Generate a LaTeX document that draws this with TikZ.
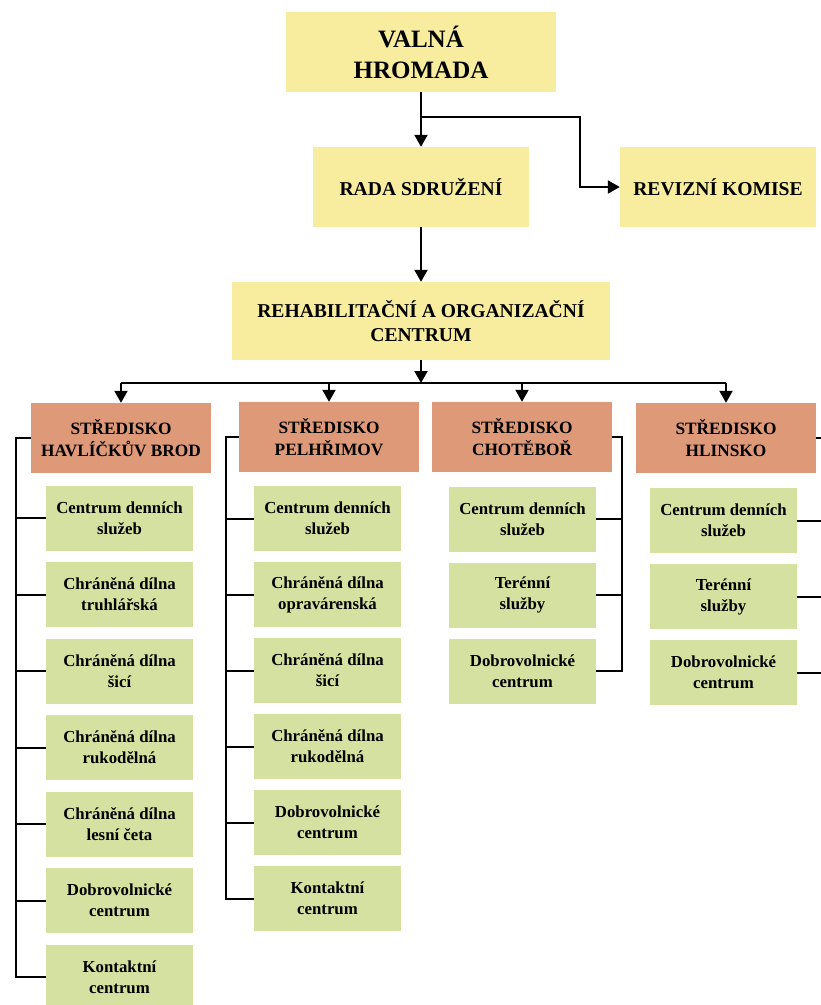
\documentclass[tikz,border=0pt]{standalone}
\usepackage{fontspec}
\setmainfont{Liberation Serif}
\usetikzlibrary{arrows.meta}

\definecolor{boxyellow}{RGB}{248,236,158}
\definecolor{boxorange}{RGB}{221,153,120}
\definecolor{boxgreen}{RGB}{213,225,160}

\begin{document}
\begin{tikzpicture}[x=1pt,y=-1pt]
    \tikzstyle{every node}=[font=\bfseries,align=center,inner sep=2pt]
    \tikzstyle{yellowbox}=[fill=boxyellow,font=\bfseries\fontsize{19.6}{24}\selectfont]
    \tikzstyle{orangebox}=[fill=boxorange,minimum width=180,minimum height=70,
        font=\bfseries\fontsize{17.3}{22}\selectfont]
    \tikzstyle{greenbox}=[fill=boxgreen,minimum width=147,minimum height=65,
        font=\bfseries\fontsize{16.8}{21}\selectfont]
    \tikzstyle{conn}=[line width=2]
    \tikzstyle{arr}=[conn,-{Triangle[width=13,length=12]}]

    \useasboundingbox (0,0) rectangle (821,1005);

    \node[yellowbox,minimum width=270,minimum height=80,
        font=\bfseries\fontsize{25}{31}\selectfont] (vh) at (421,52) {VALNÁ\\HROMADA};
    \node[yellowbox,minimum width=216,minimum height=80] (rada) at (421,187)
        {RADA SDRUŽENÍ};
    \node[yellowbox,minimum width=196,minimum height=80] (revize) at (718,187)
        {REVIZNÍ KOMISE};
    \node[yellowbox,minimum width=378,minimum height=78] (rehab) at (421,321)
        {REHABILITAČNÍ A ORGANIZAČNÍ\\CENTRUM};

    \node[orangebox] (hb) at (121,438) {STŘEDISKO\\HAVLÍČKŮV BROD};
    \node[orangebox] (pe) at (329,437) {STŘEDISKO\\PELHŘIMOV};
    \node[orangebox] (ch) at (522,437) {STŘEDISKO\\CHOTĚBOŘ};
    \node[orangebox] (hl) at (726,438) {STŘEDISKO\\HLINSKO};

    \foreach \txt [count=\i] in {{Centrum denních\\služeb},
        {Chráněná dílna\\truhlářská}, {Chráněná dílna\\šicí},
        {Chráněná dílna\\rukodělná}, {Chráněná dílna\\lesní četa},
        {Dobrovolnické\\centrum}, {Kontaktní\\centrum}}
        \node[greenbox] (hb\i) at (119.5,441.5+76.5*\i) {\txt};

    \foreach \txt [count=\i] in {{Centrum denních\\služeb},
        {Chráněná dílna\\opravárenská}, {Chráněná dílna\\šicí},
        {Chráněná dílna\\rukodělná}, {Dobrovolnické\\centrum},
        {Kontaktní\\centrum}}
        \node[greenbox] (pe\i) at (327.5,442.5+76*\i) {\txt};

    \foreach \txt [count=\i] in {{Centrum denních\\služeb},
        {Terénní\\služby}, {Dobrovolnické\\centrum}}
        \node[greenbox] (ch\i) at (522.5,443+76*\i) {\txt};

    \foreach \txt [count=\i] in {{Centrum denních\\služeb},
        {Terénní\\služby}, {Dobrovolnické\\centrum}}
        \node[greenbox] (hl\i) at (723.5,444.5+76*\i) {\txt};

    \coordinate (split) at (421,117);
    \coordinate (kink) at (580,117);
    \coordinate (bus) at (421,383);
    \coordinate (hbrail) at (16,0);
    \coordinate (perail) at (226,0);
    \coordinate (chrail) at (622,0);
    \coordinate (hlrail) at (828,0);

    \draw[arr] (vh) -- (rada);
    \draw[arr] (split) -- (kink) |- (revize.west);
    \draw[arr] (rada) -- (rehab);
    \draw[arr] (rehab) -- (bus);
    \draw[conn] (hb.north |- bus) -- (hl.north |- bus);
    \foreach \s in {hb,pe,ch,hl}
        \draw[arr] (\s.north |- bus) -- (\s);

    \draw[conn] (hb.west) -- (hb.west -| hbrail) -- (hb7.west -| hbrail) -- (hb7.west);
    \foreach \i in {1,...,6}
        \draw[conn] (hb\i.west -| hbrail) -- (hb\i.west);

    \draw[conn] (pe.west) -- (pe.west -| perail) -- (pe6.west -| perail) -- (pe6.west);
    \foreach \i in {1,...,5}
        \draw[conn] (pe\i.west -| perail) -- (pe\i.west);

    \draw[conn] (ch.east) -- (ch.east -| chrail) -- (ch3.east -| chrail) -- (ch3.east);
    \foreach \i in {1,2}
        \draw[conn] (ch\i.east -| chrail) -- (ch\i.east);

    \draw[conn] (hl.east) -- (hl.east -| hlrail) -- (hl3.east -| hlrail) -- (hl3.east);
    \foreach \i in {1,2}
        \draw[conn] (hl\i.east -| hlrail) -- (hl\i.east);

\end{tikzpicture}
\end{document}
